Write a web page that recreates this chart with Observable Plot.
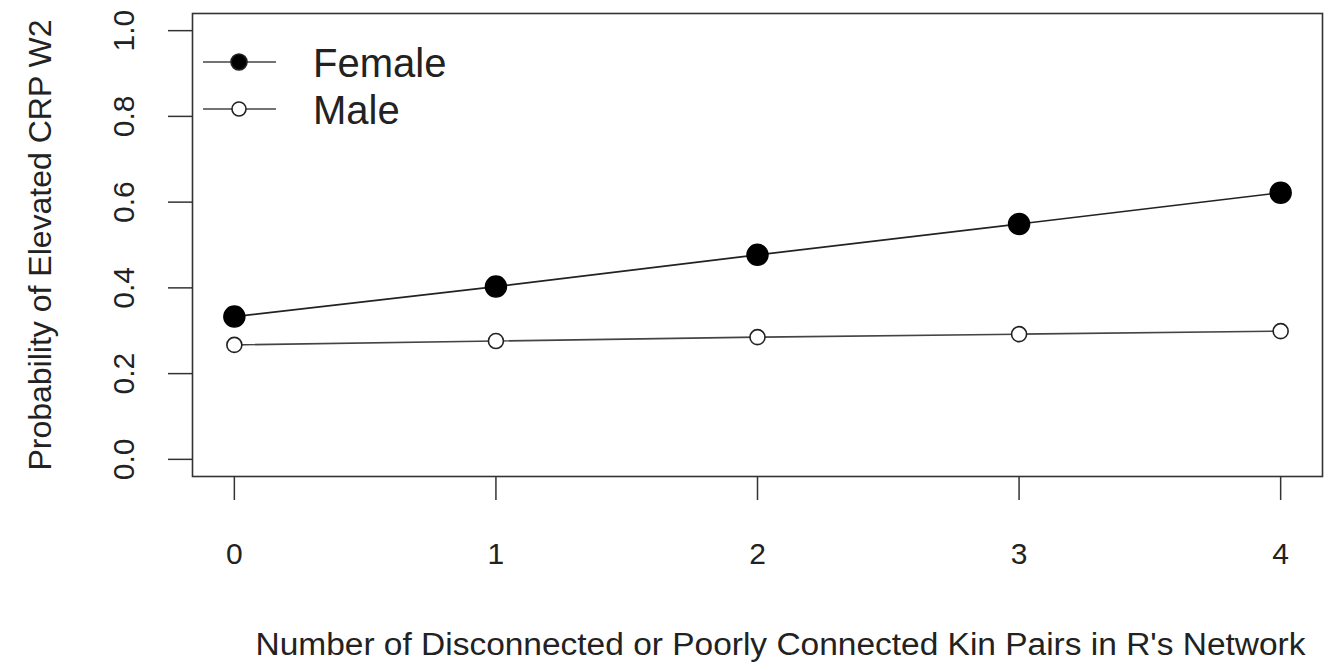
<!DOCTYPE html>
<html>
<head>
<meta charset="utf-8">
<script src="https://cdn.jsdelivr.net/npm/d3@7"></script>
<script src="https://cdn.jsdelivr.net/npm/@observablehq/plot@0.6"></script>
<style>
  html, body { margin: 0; padding: 0; background: #fff; }
  #chart svg { display: block; }
</style>
</head>
<body>
<div id="chart"></div>
<script>
// ---- data ----
const kinPairs = [0, 1, 2, 3, 4];
const femaleProb = [0.333, 0.403, 0.477, 0.549, 0.622];
const maleProb = [0.267, 0.276, 0.285, 0.292, 0.299];
const seriesNames = ["Female", "Male"];
const yTickValues = [0, 0.2, 0.4, 0.6, 0.8, 1.0];
const xTitle = "Number of Disconnected or Poorly Connected Kin Pairs in R's Network";
const yTitle = "Probability of Elevated CRP W2";

const rows = kinPairs.flatMap((k, i) => [
  {x: k, y: femaleProb[i], sex: "Female"},
  {x: k, y: maleProb[i], sex: "Male"}
]);
const femaleRows = rows.filter(d => d.sex === "Female");
const maleRows = rows.filter(d => d.sex === "Male");

const font = "'Liberation Sans', Arial, Helvetica, sans-serif";
const ML = 192, MR = 11, MT = 13, MB = 194;

const chart = Plot.plot({
  width: 1333,
  height: 670,
  marginLeft: ML,
  marginRight: MR,
  marginTop: MT,
  marginBottom: MB,
  style: {fontFamily: font, background: "#fff", color: "#222"},
  x: {domain: [-0.16, 4.16]},
  y: {domain: [-0.04, 1.04]},
  marks: [
    Plot.axisX({ticks: kinPairs, tickSize: 24, tickPadding: 42, fontSize: 30, label: null, stroke: "#333", strokeWidth: 1.5, tickFormat: d => String(d)}),
    Plot.axisY({ticks: yTickValues, tickSize: 24, label: null, stroke: "#333", strokeWidth: 1.5, tickFormat: () => ""}),
    Plot.text(yTickValues, {y: d => d, text: d => d.toFixed(1), frameAnchor: "left", dx: -68, rotate: -90, textAnchor: "middle", fontSize: 30, fill: "#222"}),
    Plot.text([yTitle], {frameAnchor: "left", dx: -152, rotate: -90, textAnchor: "middle", fontSize: 32, fill: "#222"}),
    Plot.text([xTitle], {frameAnchor: "bottom", dx: 23, dy: 178, textAnchor: "middle", fontSize: 31, fill: "#222", className: "xtitle"}),
    Plot.frame({stroke: "#333", strokeWidth: 1.6}),
    Plot.line(femaleRows, {x: "x", y: "y", stroke: "#222", strokeWidth: 1.6}),
    Plot.line(maleRows, {x: "x", y: "y", stroke: "#444", strokeWidth: 1.6}),
    Plot.dot(femaleRows, {x: "x", y: "y", r: 10.5, fill: "#000", stroke: "#000"}),
    Plot.dot(maleRows, {x: "x", y: "y", r: 7.5, fill: "#fff", stroke: "#222", strokeWidth: 1.6})
  ]
});

// stretch the x-axis title to the width seen in the reference
d3.select(chart).selectAll("g.xtitle text")
  .attr("textLength", 1050)
  .attr("lengthAdjust", "spacingAndGlyphs");

// legend (inside plot, top-left)
const svg = d3.select(chart);
const leg = svg.append("g").attr("font-family", font).attr("text-anchor", "start");
seriesNames.forEach((name, i) => {
  const cy = MT + 49 + 47 * i;
  leg.append("line")
    .attr("x1", ML + 11).attr("x2", ML + 84)
    .attr("y1", cy).attr("y2", cy)
    .attr("stroke", "#444").attr("stroke-width", 1.6);
  leg.append("circle")
    .attr("cx", ML + 47).attr("cy", cy)
    .attr("r", name === "Female" ? 8 : 7)
    .attr("fill", name === "Female" ? "#000" : "#fff")
    .attr("stroke", "#222").attr("stroke-width", 1.6);
  leg.append("text")
    .attr("x", ML + 121).attr("y", cy + 15)
    .attr("text-anchor", "start")
    .attr("font-size", 40).attr("fill", "#222")
    .text(name);
});

document.getElementById("chart").appendChild(chart);
</script>
</body>
</html>
